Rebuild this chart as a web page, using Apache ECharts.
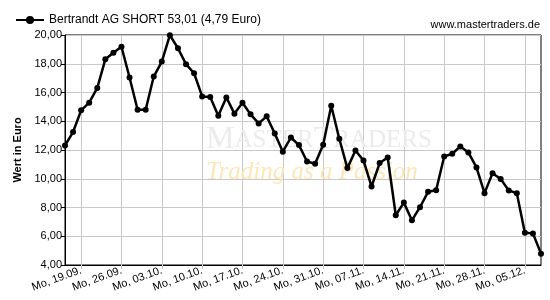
<!DOCTYPE html>
<html>
<head>
<meta charset="utf-8">
<script src="https://cdn.jsdelivr.net/npm/echarts@6/dist/echarts.min.js"></script>
<style>
  html, body { margin: 0; padding: 0; background: #fff; }
  #main { width: 550px; height: 300px; }
</style>
</head>
<body>
<div id="main"></div>
<script>
const seriesName = 'Bertrandt AG SHORT 53,01 (4,79 Euro)';

// trading days, one per point
const days = [
  'Do, 15.09.', 'Fr, 16.09.',
  'Mo, 19.09.', 'Di, 20.09.', 'Mi, 21.09.', 'Do, 22.09.', 'Fr, 23.09.',
  'Mo, 26.09.', 'Di, 27.09.', 'Mi, 28.09.', 'Do, 29.09.', 'Fr, 30.09.',
  'Mo, 03.10.', 'Di, 04.10.', 'Mi, 05.10.', 'Do, 06.10.', 'Fr, 07.10.',
  'Mo, 10.10.', 'Di, 11.10.', 'Mi, 12.10.', 'Do, 13.10.', 'Fr, 14.10.',
  'Mo, 17.10.', 'Di, 18.10.', 'Mi, 19.10.', 'Do, 20.10.', 'Fr, 21.10.',
  'Mo, 24.10.', 'Di, 25.10.', 'Mi, 26.10.', 'Do, 27.10.', 'Fr, 28.10.',
  'Mo, 31.10.', 'Di, 01.11.', 'Mi, 02.11.', 'Do, 03.11.', 'Fr, 04.11.',
  'Mo, 07.11.', 'Di, 08.11.', 'Mi, 09.11.', 'Do, 10.11.', 'Fr, 11.11.',
  'Mo, 14.11.', 'Di, 15.11.', 'Mi, 16.11.', 'Do, 17.11.', 'Fr, 18.11.',
  'Mo, 21.11.', 'Di, 22.11.', 'Mi, 23.11.', 'Do, 24.11.', 'Fr, 25.11.',
  'Mo, 28.11.', 'Di, 29.11.', 'Mi, 30.11.', 'Do, 01.12.', 'Fr, 02.12.',
  'Mo, 05.12.', 'Di, 06.12.', 'Mi, 07.12.'
];

const values = [
  12.32, 13.25,
  14.76, 15.29, 16.32, 18.31, 18.76,
  19.18, 17.04, 14.80, 14.80, 17.11,
  18.15, 19.99, 19.08, 17.97, 17.34,
  15.73, 15.69, 14.39, 15.66, 14.53,
  15.29, 14.48, 13.85, 14.34, 13.15,
  11.88, 12.87, 12.34, 11.20, 11.04,
  12.36, 15.08, 12.78, 10.74, 11.97,
  11.27, 9.46, 11.09, 11.48, 7.46,
  8.34, 7.11, 8.02, 9.09, 9.20,
  11.55, 11.74, 12.25, 11.83, 10.79,
  9.00, 10.39, 9.99, 9.18, 9.00,
  6.25, 6.20, 4.79
];

const yMin = 4;
const yMax = 20;
const yStep = 2;

const isMonday = (index, value) => String(value).startsWith('Mo');

const chart = echarts.init(document.getElementById('main'));

const option = {
  animation: false,
  textStyle: { fontFamily: 'Liberation Sans, Arial, sans-serif' },
  legend: {
    left: 10,
    top: 9,
    itemWidth: 28,
    itemHeight: 10,
    textStyle: { fontSize: 12, color: '#000' },
    data: [seriesName]
  },
  graphic: [
    {
      type: 'text',
      right: 10,
      top: 19,
      style: { text: 'www.mastertraders.de', fontSize: 11, fill: '#000', fontFamily: 'Liberation Sans, Arial' }
    },
    {
      type: 'text',
      left: 206,
      top: 124,
      z: 1,
      style: {
        text: '{b|M}{s|ASTER}{b|T}{s|RADERS}',
        fill: '#ebebeb',
        fontFamily: 'Liberation Serif, serif',
        rich: {
          b: { fontSize: 32, fill: '#ebebeb', fontFamily: 'Liberation Serif, serif' },
          s: { fontSize: 25, fill: '#ebebeb', fontFamily: 'Liberation Serif, serif' }
        }
      }
    },
    {
      type: 'text',
      left: 206,
      top: 160,
      z: 1,
      style: { text: 'Trading as a Passion', fontSize: 25, fontStyle: 'italic', fill: '#fde6b8', fontFamily: 'Liberation Serif, serif' }
    }
  ],
  grid: {
    left: 65,
    right: 9,
    top: 35,
    bottom: 35,
    show: true,
    borderColor: '#000',
    borderWidth: 1
  },
  xAxis: {
    type: 'category',
    data: days,
    boundaryGap: false,
    axisLine: { lineStyle: { color: '#000', width: 1 } },
    axisTick: { interval: isMonday, length: 4, lineStyle: { color: '#c8c8c8' } },
    axisLabel: {
      interval: isMonday,
      rotate: 20,
      fontSize: 11,
      color: '#000',
      margin: 5
    },
    splitLine: { show: true, interval: isMonday, lineStyle: { color: '#c8c8c8' } }
  },
  yAxis: {
    type: 'value',
    min: yMin,
    max: yMax,
    interval: yStep,
    name: 'Wert in Euro',
    nameLocation: 'middle',
    nameGap: 40,
    nameTextStyle: { fontSize: 11, fontWeight: 'bold', color: '#000' },
    axisLine: { show: true, lineStyle: { color: '#000' } },
    axisTick: { show: true, length: 4, lineStyle: { color: '#000' } },
    axisLabel: {
      fontSize: 11,
      color: '#000',
      margin: 3,
      formatter: (v) => v.toFixed(2).replace('.', ',')
    },
    splitLine: { lineStyle: { color: '#c8c8c8' } }
  },
  series: [
    {
      name: seriesName,
      type: 'line',
      data: values,
      z: 3,
      symbol: 'circle',
      symbolSize: 6,
      showAllSymbol: true,
      lineStyle: { color: '#000', width: 2.5 },
      itemStyle: { color: '#000' }
    }
  ]
};

chart.setOption(option);
</script>
</body>
</html>
